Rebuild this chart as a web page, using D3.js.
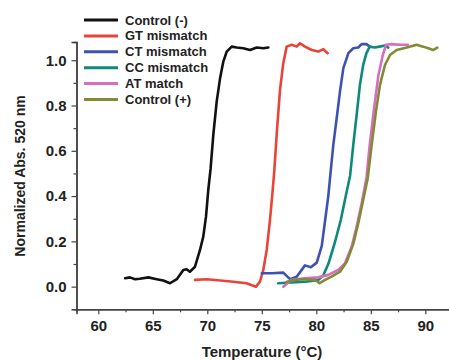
<!DOCTYPE html>
<html><head><meta charset="utf-8">
<script src="https://cdn.jsdelivr.net/npm/d3@7"></script>
<style>body{margin:0;background:#fff}svg{display:block}text{font-family:"Liberation Sans",Arial,sans-serif;font-weight:bold;fill:#222}</style>
</head><body><svg id="c" width="449" height="360"></svg>
<script>
const seriesNames = ["Control (-)","GT mismatch","CT mismatch","CC mismatch","AT match","Control (+)"];
const seriesColors = ["#111111","#e8443a","#3e52b2","#0f8a78","#d46fbd","#838a35"];
const xTicks = [60,65,70,75,80,85,90];
const yTicks = [0.0,0.2,0.4,0.6,0.8,1.0];
const controlNeg = [[62.46,0.037],[62.9,0.041],[63.37,0.033],[63.8,0.035],[64.6,0.041],[65.36,0.033],[65.96,0.027],[66.58,0.015],[67.2,0.033],[67.8,0.074],[68.1,0.077],[68.4,0.066],[68.87,0.088],[69.33,0.162],[69.63,0.221],[69.88,0.309],[70.09,0.427],[70.3,0.52],[70.55,0.67],[70.86,0.817],[71.17,0.92],[71.47,0.994],[71.78,1.038],[72.24,1.06],[72.7,1.056],[73.3,1.053],[73.92,1.045],[74.53,1.056],[75.14,1.053],[75.6,1.056]];
const gtMismatch = [[68.87,0.03],[69.94,0.033],[71.17,0.027],[72.39,0.022],[73.6,0.015],[74.47,0.0],[74.83,0.022],[75.14,0.074],[75.45,0.162],[75.75,0.295],[76.0,0.427],[76.15,0.515],[76.37,0.677],[76.67,0.869],[76.97,0.987],[77.28,1.06],[77.74,1.068],[78.2,1.06],[78.5,1.075],[78.96,1.06],[79.58,1.045],[80.18,1.038],[80.64,1.049],[81.04,1.031]];
const ctMismatch = [[75.0,0.059],[75.9,0.059],[76.97,0.062],[77.59,0.033],[78.2,0.044],[78.96,0.094],[79.5,0.086],[80.04,0.106],[80.5,0.18],[80.8,0.29],[81.1,0.4],[81.3,0.5],[81.56,0.626],[81.87,0.744],[82.17,0.861],[82.48,0.965],[82.94,1.031],[83.39,1.053],[83.85,1.056],[84.16,1.071],[84.6,1.071],[84.9,1.06]];
const ccMismatch = [[76.5,0.015],[79.0,0.022],[80.2,0.03],[80.64,0.05],[81.1,0.1],[81.7,0.195],[82.25,0.295],[82.7,0.4],[83.1,0.49],[83.39,0.626],[83.7,0.758],[84.0,0.891],[84.3,0.979],[84.6,1.031],[84.9,1.06],[85.36,1.056],[85.8,1.06],[86.3,1.065],[86.6,1.056]];
const atMatch = [[76.97,0.0],[77.74,0.03],[78.96,0.037],[80.18,0.041],[81.1,0.052],[82.0,0.074],[82.63,0.103],[83.25,0.177],[83.7,0.265],[84.16,0.368],[84.6,0.48],[84.9,0.626],[85.3,0.788],[85.7,0.935],[86.1,1.023],[86.4,1.068],[86.9,1.071],[87.68,1.068],[88.4,1.068]];
const controlPos = [[77.3,0.022],[78.05,0.03],[78.96,0.033],[79.9,0.03],[80.3,0.015],[80.8,0.03],[81.4,0.044],[82.17,0.066],[82.79,0.11],[83.4,0.19],[83.85,0.28],[84.3,0.383],[84.72,0.48],[85.08,0.626],[85.47,0.773],[85.84,0.891],[86.3,0.979],[86.76,1.023],[87.37,1.045],[88.3,1.056],[89.2,1.068],[89.8,1.06],[90.28,1.053],[90.7,1.045],[91.1,1.056]];
const seriesData = [controlNeg,gtMismatch,ctMismatch,ccMismatch,atMatch,controlPos];

const svg = d3.select("#c");
const x = d3.scaleLinear().domain([58,92.2]).range([76.5,449.3]);
const y = d3.scaleLinear().domain([-0.1,1.08]).range([309.3,42.1]);
const axisColor = "#444";

// x axis
const gx = svg.append("g").attr("transform",`translate(0,${y(-0.1)})`);
gx.call(d3.axisBottom(x).tickValues(xTicks).tickSize(5).tickPadding(6).tickFormat(d3.format("d")));
gx.append("g").call(d3.axisBottom(x).tickValues(xTicks.map(d=>d+2.5).filter(d=>d<92)).tickSize(3).tickFormat(""));
gx.selectAll("path.domain").attr("stroke",axisColor).attr("stroke-width",1.5);
gx.selectAll("line").attr("stroke",axisColor).attr("stroke-width",1.2);
gx.selectAll("text").style("font-size","15px").attr("fill","#222");
gx.select("g").select("path.domain").remove();

// y axis
const gy = svg.append("g").attr("transform",`translate(${x(58)},0)`);
gy.call(d3.axisLeft(y).tickValues(yTicks).tickSize(5).tickPadding(5).tickFormat(d3.format(".1f")));
gy.append("g").call(d3.axisLeft(y).tickValues([0.1,0.3,0.5,0.7,0.9]).tickSize(3).tickFormat(""));
gy.selectAll("path.domain").attr("stroke",axisColor).attr("stroke-width",1.5);
gy.selectAll("line").attr("stroke",axisColor).attr("stroke-width",1.2);
gy.selectAll("text").style("font-size","15px").attr("fill","#222");
gy.select("g").select("path.domain").remove();

// axis titles
svg.append("text").attr("x",262).attr("y",357).attr("text-anchor","middle").style("font-size","15px").text("Temperature (°C)");
svg.append("text").attr("transform","translate(25,176) rotate(-90)").attr("text-anchor","middle").style("font-size","14px").text("Normalized Abs. 520 nm");

// curves
const line = d3.line().x(d=>x(d[0])).y(d=>y(d[1]));
seriesData.forEach((s,i)=>{
  svg.append("path").datum(s).attr("d",line).attr("fill","none")
    .attr("stroke",seriesColors[i]).attr("stroke-width",2.6).attr("stroke-linejoin","round").attr("stroke-linecap","round");
});

// legend
const lg = svg.append("g");
seriesNames.forEach((n,i)=>{
  const yy = 20 + i*15.9;
  lg.append("line").attr("x1",84).attr("x2",118).attr("y1",yy).attr("y2",yy).attr("stroke",seriesColors[i]).attr("stroke-width",3);
  lg.append("text").attr("x",125).attr("y",yy+4.5).style("font-size","13px").text(n);
});
</script></body></html>
